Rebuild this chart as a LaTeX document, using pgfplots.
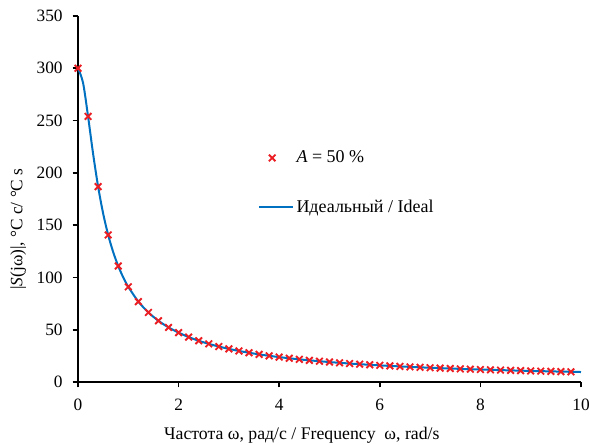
\documentclass[border=0pt]{standalone}
\usepackage{fontspec}
\setmainfont{Liberation Serif}
\usepackage{pgfplots}
\pgfplotsset{compat=1.18}
\definecolor{lineblue}{RGB}{0,112,192}
\definecolor{markred}{RGB}{235,30,35}
\pgfplotsset{
  markleg/.style={legend image code/.code={\draw[##1] plot coordinates {(10pt,0pt)};}},
  lineleg/.style={legend image code/.code={\draw[##1] (0pt,0pt) -- (25.5pt,0pt);}},
}
\begin{document}
\fontsize{13pt}{15pt}\selectfont
\begin{tikzpicture}
\begin{axis}[
  scale only axis,
  width=377.25pt, height=274.5pt,
  xmin=0, xmax=10, ymin=0, ymax=350,
  axis x line=bottom, axis y line=left,
  axis line style={-, line width=1.3pt, black},
  xtick={0,2,4,6,8,10},
  ytick={0,50,100,150,200,250,300,350},
  tick style={line width=1.3pt, black},
  tick align=outside,
  major tick length=4pt,
  /pgf/number format/assume math mode=true,
  ticklabel style={font=\fontsize{13pt}{15pt}\selectfont},
  xticklabel style={yshift=-4pt},
  yticklabel style={xshift=-3pt},
  xlabel={Частота ω, рад/с / Frequency\ \ ω, rad/s},
  xlabel style={font=\fontsize{13.3pt}{15pt}\selectfont, at={(axis description cs:0.445,0)}, anchor=center, yshift=-40pt},
  ylabel={|\textit{S}(jω)|, °C c/ °C s},
  ylabel style={font=\fontsize{13pt}{15pt}\selectfont, at={(axis description cs:-0.119,0.418)}, anchor=center},
  legend style={draw=none, fill=none, at={(axis description cs:0.357,0.640)}, anchor=north west,
    row sep=22pt, font=\fontsize{13.5pt}{15pt}\selectfont, inner sep=0pt},
  legend cell align=left,
]
\addplot[only marks, mark=x, mark size=3.5pt, mark options={line width=1.4pt, markred}, markleg] coordinates {
(0,300) (0.2,254.0) (0.4,186.8) (0.6,140.6) (0.8,110.9) (1.0,91.0) (1.2,76.9) (1.4,66.5) (1.6,58.5) (1.8,52.2)
(2.0,47.2) (2.2,42.96) (2.4,39.44) (2.6,36.46) (2.8,33.89) (3.0,31.65) (3.2,29.69) (3.4,27.96) (3.6,26.42) (3.8,25.04)
(4.0,23.80) (4.2,22.67) (4.4,21.65) (4.6,20.71) (4.8,19.85) (5.0,19.06) (5.2,18.33) (5.4,17.65) (5.6,17.02) (5.8,16.44)
(6.0,15.89) (6.2,15.38) (6.4,14.90) (6.6,14.45) (6.8,14.03) (7.0,13.63) (7.2,13.25) (7.4,12.89) (7.6,12.55) (7.8,12.23)
(8.0,11.93) (8.2,11.64) (8.4,11.36) (8.6,11.10) (8.8,10.84) (9.0,10.60) (9.2,10.37) (9.4,10.15) (9.6,9.94) (9.8,9.74)
};
\addlegendentry{\textit{A} = 50 \%}
\addplot[smooth, no marks, line width=1.5pt, lineblue, lineleg] coordinates {
(0,300) (0.1,286.2) (0.2,254.0) (0.3,218.3) (0.4,186.8) (0.5,161.1) (0.6,140.6) (0.7,124.2) (0.8,110.9) (0.9,100.0) (1.0,91.0) (1.2,76.9) (1.4,66.5) (1.6,58.5) (1.8,52.2)
(2.0,47.2) (2.2,42.96) (2.4,39.44) (2.6,36.46) (2.8,33.89) (3.0,31.65) (3.2,29.69) (3.4,27.96) (3.6,26.42) (3.8,25.04)
(4.0,23.80) (4.2,22.67) (4.4,21.65) (4.6,20.71) (4.8,19.85) (5.0,19.06) (5.2,18.33) (5.4,17.65) (5.6,17.02) (5.8,16.44)
(6.0,15.89) (6.2,15.38) (6.4,14.90) (6.6,14.45) (6.8,14.03) (7.0,13.63) (7.2,13.25) (7.4,12.89) (7.6,12.55) (7.8,12.23)
(8.0,11.93) (8.2,11.64) (8.4,11.36) (8.6,11.10) (8.8,10.84) (9.0,10.60) (9.2,10.37) (9.4,10.15) (9.6,9.94) (9.8,9.74) (10.0,9.54)
};
\addlegendentry{Идеальный / Ideal}
\end{axis}
\pgfresetboundingbox
\path (-58.5pt,-47.25pt) rectangle (384pt,286.5pt);
\end{tikzpicture}
\end{document}
